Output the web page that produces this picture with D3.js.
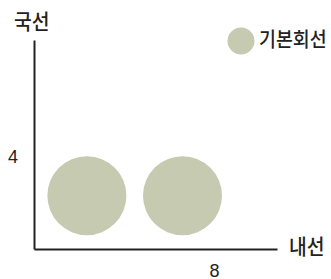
<!DOCTYPE html>
<html>
<head>
<meta charset="utf-8">
<script src="https://cdn.jsdelivr.net/npm/d3@7"></script>
<style>
  body { margin: 0; background: #fff; }
  text { fill: #222; }
</style>
</head>
<body>
<div id="chart"></div>
<script>
// data
var seriesName = "기본회선";
var xValues = [2.35, 6.6];
var yValues = [2.32, 2.32];
var xTicks = [8];
var yTicks = [4];
var xTitle = "내선";
var yTitle = "국선";

var width = 331, height = 279;
var color = "#c5cab0";

var svg = d3.select("#chart").append("svg")
    .attr("width", width)
    .attr("height", height);

// scales
var x = d3.scaleLinear().domain([0, 10.8]).range([34, 277]);
var y = d3.scaleLinear().domain([0, 9.09]).range([249, 40]);

// axes
var xAxis = svg.append("g")
    .attr("transform", "translate(0," + y(0) + ")")
    .call(d3.axisBottom(x).tickValues(xTicks).tickSize(0).tickPadding(17));
var yAxis = svg.append("g")
    .attr("transform", "translate(" + x(0) + ",0)")
    .call(d3.axisLeft(y).tickValues(yTicks).tickSize(0).tickPadding(16));

[xAxis, yAxis].forEach(function(g){
    g.select(".domain").attr("stroke", "#222").attr("stroke-width", 2);
    g.selectAll("text")
        .style("font-family", "Liberation Sans, sans-serif")
        .style("font-size", "18px")
        .attr("fill", "#222");
});
xAxis.selectAll("text").attr("dy", "0.6em");

// axis titles (condensed look: squeeze horizontally)
function title(tx, ty, size, str) {
    svg.append("text")
        .attr("transform", "translate(" + tx + "," + ty + ") scale(0.92,1)")
        .attr("dominant-baseline", "middle")
        .style("font-family", "Noto Sans CJK KR")
        .style("font-weight", 500)
        .style("font-size", size + "px")
        .text(str);
}
title(14, 23, 21, yTitle);
title(289, 248, 21, xTitle);

// bubbles
svg.selectAll(".dot")
    .data(xValues.map(function(d, i){ return {x: d, y: yValues[i]}; }))
    .enter().append("circle")
    .attr("class", "dot")
    .attr("cx", function(d){ return x(d.x); })
    .attr("cy", function(d){ return y(d.y); })
    .attr("r", 39.5)
    .attr("fill", color);

// legend
var legend = svg.append("g").attr("transform", "translate(241,41)");
legend.append("circle").attr("r", 13.5).attr("fill", color);
title(259, 42, 20, seriesName);
</script>
</body>
</html>
